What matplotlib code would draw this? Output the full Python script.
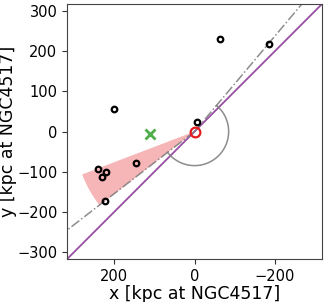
import matplotlib
matplotlib.use("Agg")
import matplotlib.pyplot as plt
import numpy as np
from matplotlib.patches import Wedge, Arc

# satellite positions (kpc at NGC4517)
sat_x = [201, -64, -186, -7, 242, 222, 232, 145, 223]
sat_y = [55, 230, 218, 23, -94, -102, -113, -78, -173]

host_x, host_y = [0], [0]
cross_x, cross_y = [112], [-5]

# directions (deg) of the two reference rays and the shaded wedge
ray_angles = [-37.7, 130.1]
wedge_angles = [-37.9, -20.9]
wedge_radius = 300
arc_radius = 85

lim = 318
ticks_x = [200, 0, -200]
ticks_y = [-300, -200, -100, 0, 100, 200, 300]

fig = plt.figure(figsize=(3.27, 3.02), dpi=100)
ax = fig.add_axes([0.205, 0.142, 0.78, 0.845])

# 1:1 line
ax.plot([lim, -lim], [-lim, lim], color="#984ea3", lw=1.3, zorder=2)

# rays from the host
for a in ray_angles:
    r = 2 * lim
    ax.plot([0, r * np.cos(np.deg2rad(a))], [0, r * np.sin(np.deg2rad(a))],
            color="gray", ls="-.", lw=1.1, alpha=0.9, zorder=2)

# angle arc between the rays (data x is inverted, so go through 180 deg)
theta = np.linspace(np.deg2rad(ray_angles[1]), np.deg2rad(ray_angles[0] + 360), 200)
ax.plot(arc_radius * np.cos(theta), arc_radius * np.sin(theta), color="gray", lw=1.1, alpha=0.9)

wedge = Wedge((0, 0), wedge_radius, wedge_angles[0], wedge_angles[1],
              facecolor="#e41a1c", alpha=0.32, edgecolor="none", zorder=1)
ax.add_patch(wedge)

ax.plot(sat_x, sat_y, "o", mfc="none", mec="black", ms=4, mew=1.6, zorder=4)
ax.plot(host_x, host_y, "o", mfc="none", mec="#e41a1c", ms=7, mew=1.6, zorder=4)
ax.plot(cross_x, cross_y, "x", color="#4daf4a", ms=7, mew=2, zorder=4)

ax.set_xlim(lim, -lim)
ax.set_ylim(-lim, lim)
ax.set_xticks(ticks_x)
ax.set_yticks(ticks_y)
ax.tick_params(labelsize=10.5, direction="out", length=3.5, color="#333333")
for s in ax.spines.values():
    s.set_color("#444444")
ax.set_xlabel("x [kpc at NGC4517]", fontsize=12.5, labelpad=1)
ax.set_ylabel("y [kpc at NGC4517]", fontsize=12.5, labelpad=0)

fig.savefig("out.png", dpi=100)
